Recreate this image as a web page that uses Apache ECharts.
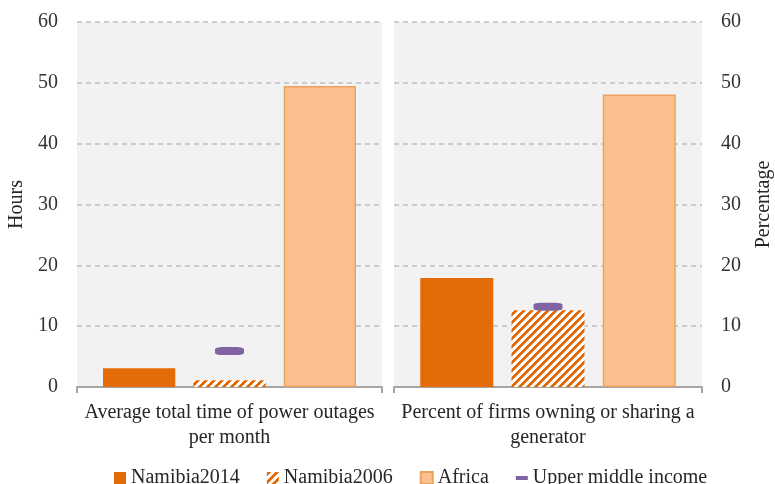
<!DOCTYPE html>
<html>
<head>
<meta charset="utf-8">
<script src="https://cdn.jsdelivr.net/npm/echarts@6/dist/echarts.min.js"></script>
<style>html,body{margin:0;padding:0;background:#fff;}#c{width:775px;height:484px;}</style>
</head>
<body>
<div id="c"></div>
<script>
// ---- data ----
const categories = ['Average total time of power outages\nper month', 'Percent of firms owning or sharing a\ngenerator'];
const seriesNames = ['Namibia2014', 'Namibia2006', 'Africa', 'Upper middle income'];
const namibia2014 = [3.1, 17.9];
const namibia2006 = [1.1, 12.6];
const africa = [49.5, 48.1];
const upperMiddle = [5.9, 13.2];
const yTicks = [0, 10, 20, 30, 40, 50, 60];
const axisTitles = ['Hours', 'Percentage'];

// ---- styles ----
const FONT = 'Liberation Serif';
const ORANGE = '#E36C09';
const LIGHT = '#FAC090';
const LIGHT_BORDER = '#EDA15E';
const PURPLE = '#8064A2';

function makeHatch() {
  const c = document.createElement('canvas');
  c.width = 8; c.height = 8;
  const ctx = c.getContext('2d');
  const img = ctx.createImageData(8, 8);
  for (let y = 0; y < 8; y++) {
    for (let x = 0; x < 8; x++) {
      const on = ((x + y) % 8) < 4;
      const i = (y * 8 + x) * 4;
      img.data[i] = on ? 0xE3 : 255;
      img.data[i + 1] = on ? 0x6C : 255;
      img.data[i + 2] = on ? 0x09 : 255;
      img.data[i + 3] = 255;
    }
  }
  ctx.putImageData(img, 0, 0);
  return c;
}
const hatch = { image: makeHatch(), repeat: 'repeat' };

const grids = [
  { left: 77, right: 393, top: 22, bottom: 97 },
  { left: 394, right: 62, top: 22, bottom: 97 }
].map(g => Object.assign(g, { show: true, backgroundColor: '#F2F2F2', borderWidth: 0, containLabel: false }));

const xAxes = categories.map((cat, i) => ({
  type: 'category', gridIndex: i, data: [cat],
  axisLine: { show: true, lineStyle: { color: '#A6A6A6', width: 2 } },
  axisTick: { show: true, length: 6, lineStyle: { color: '#A6A6A6', width: 2 } },
  axisLabel: { fontFamily: FONT, fontSize: 20, color: '#262626', margin: 13, lineHeight: 25, align: 'center' }
}));

const yAxes = [0, 1].map(i => ({
  type: 'value', gridIndex: i, min: yTicks[0], max: yTicks[yTicks.length - 1], interval: yTicks[1] - yTicks[0],
  position: i === 0 ? 'left' : 'right',
  name: axisTitles[i], nameLocation: 'middle', nameGap: i === 0 ? 50 : 52, nameRotate: 90,
  nameTextStyle: { fontFamily: FONT, fontSize: 20, color: '#262626' },
  axisLine: { show: false }, axisTick: { show: false },
  axisLabel: { fontFamily: FONT, fontSize: 20, color: '#333', margin: 19 },
  splitLine: { show: true, lineStyle: { color: '#BFBFBF', width: 1.5, type: [5, 4] } }
}));

const series = [];
[0, 1].forEach(i => {
  const common = { type: 'bar', xAxisIndex: i, yAxisIndex: i, barWidth: '23.7%', barGap: '25%' };
  series.push(Object.assign({}, common, { name: seriesNames[0], data: [namibia2014[i]], itemStyle: { color: ORANGE } }));
  series.push(Object.assign({}, common, { name: seriesNames[1], data: [namibia2006[i]], itemStyle: { color: hatch } }));
  series.push(Object.assign({}, common, { name: seriesNames[2], data: [africa[i]], itemStyle: { color: LIGHT, borderColor: LIGHT_BORDER, borderWidth: 1.5 } }));
  series.push({ type: 'scatter', name: seriesNames[3], xAxisIndex: i, yAxisIndex: i, data: [[0, upperMiddle[i]]],
    symbol: 'roundRect', symbolSize: [29, 8], itemStyle: { color: PURPLE, opacity: 1 }, z: 5 });
});

const chart = echarts.init(document.getElementById('c'), null, { renderer: 'canvas' });
chart.setOption({
  animation: false,
  backgroundColor: '#fff',
  grid: grids,
  xAxis: xAxes,
  yAxis: yAxes,
  legend: {
    left: 109, top: 463, itemWidth: 12, itemHeight: 12, itemGap: 27,
    textStyle: { fontFamily: FONT, fontSize: 20, color: '#262626' },
    data: [
      { name: seriesNames[0], icon: 'rect' },
      { name: seriesNames[1], icon: 'rect' },
      { name: seriesNames[2], icon: 'rect' },
      { name: seriesNames[3], icon: 'path://M0,0h0.01v0.01h-0.01z M0,4h12v4h-12z M12,12h-0.01v-0.01h0.01z' }
    ]
  },
  series: series
});
</script>
</body>
</html>
